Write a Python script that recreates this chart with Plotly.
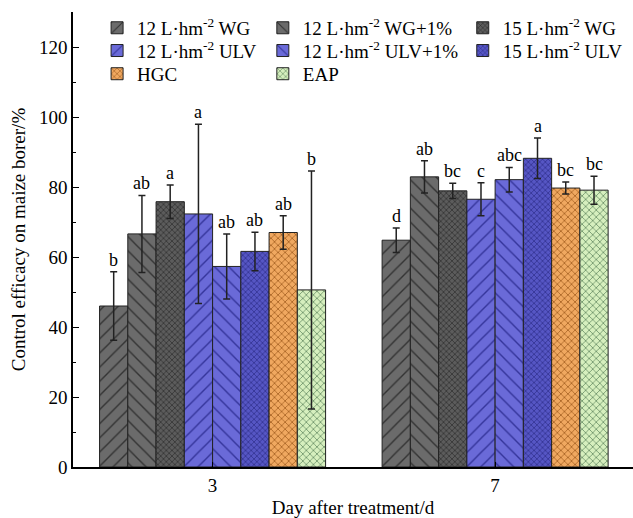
import plotly.graph_objects as go

# ---- data ----
days = ["3", "7"]
series_names = [
    "12 L·hm<sup>-2</sup> WG",
    "12 L·hm<sup>-2</sup> WG+1%",
    "15 L·hm<sup>-2</sup> WG",
    "12 L·hm<sup>-2</sup> ULV",
    "12 L·hm<sup>-2</sup> ULV+1%",
    "15 L·hm<sup>-2</sup> ULV",
    "HGC",
    "EAP",
]
values = [
    [46.0, 64.8],
    [66.6, 82.9],
    [75.8, 78.9],
    [72.3, 76.5],
    [57.3, 82.1],
    [61.6, 88.2],
    [67.0, 79.7],
    [50.6, 79.1],
]
errors = [
    [9.8, 3.5],
    [11.0, 4.6],
    [4.8, 2.2],
    [25.6, 4.7],
    [9.3, 3.5],
    [5.5, 5.8],
    [4.8, 1.7],
    [34.0, 4.0],
]
letters = [
    ["b", "d"],
    ["ab", "ab"],
    ["a", "bc"],
    ["a", "c"],
    ["ab", "abc"],
    ["ab", "a"],
    ["ab", "bc"],
    ["b", "bc"],
]

# ---- styles ----
bg_colors = ["#6b6b6b", "#6b6b6b", "#5c5c5c", "#6a6ad8", "#6a6ad8", "#5656c4", "#f0a860", "#d6efbe"]
fg_colors = ["#333333", "#333333", "#2a2a2a", "#34349a", "#34349a", "#2a2a86", "#a86424", "#6f946a"]
shapes_ = ["/", "\\", "x", "/", "\\", "x", "x", "x"]
sizes = [10, 10, 4, 10, 10, 4, 5, 5]
solid = [0.14, 0.14, 0.3, 0.14, 0.14, 0.3, 0.3, 0.3]
# legend placement (column left in paper x, row in paper y)
leg_x = [0.043, 0.339, 0.696, 0.043, 0.339, 0.696, 0.043, 0.339]
leg_y = [0.965, 0.965, 0.965, 0.915, 0.915, 0.915, 0.864, 0.864]

FONT = "Liberation Serif"
FS = 19
bar_w = 0.1
n = len(series_names)
centers = list(range(len(days)))

fig = go.Figure()
annotations = []
legends = {}
for i in range(n):
    off = -bar_w * n / 2 + i * bar_w
    lid = "legend" if i == 0 else f"legend{i + 1}"
    legends[lid] = dict(
        x=leg_x[i], y=leg_y[i], xanchor="left", yanchor="middle",
        orientation="v", bgcolor="rgba(0,0,0,0)", visible=True,
        font=dict(family=FONT, size=FS, color="black"),
    )
    fig.add_trace(go.Bar(
        x=centers,
        y=values[i],
        name=series_names[i],
        width=bar_w,
        offset=off,
        legend=lid,
        showlegend=True,
        marker=dict(
            color=bg_colors[i],
            line=dict(color="#222222", width=1),
            pattern=dict(shape=shapes_[i], fgcolor=fg_colors[i], bgcolor=bg_colors[i],
                         size=sizes[i], solidity=solid[i], fillmode="replace"),
        ),
        error_y=dict(type="data", array=errors[i], visible=True,
                     color="#222222", thickness=1.5, width=3.5),
    ))
    for j, c in enumerate(centers):
        annotations.append(dict(
            x=c + off + bar_w / 2, y=values[i][j] + errors[i][j],
            xref="x", yref="y", text=letters[i][j], showarrow=False,
            yanchor="bottom", xanchor="center", yshift=0,
            font=dict(family=FONT, size=18, color="black"),
        ))

fig.update_layout(
    width=633, height=518,
    margin=dict(l=73, r=0, t=12, b=51),
    paper_bgcolor="white", plot_bgcolor="white",
    barmode="overlay",
    showlegend=True,
    font=dict(family=FONT, size=FS, color="black"),
    annotations=annotations,
    xaxis=dict(
        range=[-0.494, 1.488], tickvals=centers, ticktext=days,
        showline=True, linecolor="black", linewidth=1.5,
        ticks="inside", ticklen=5, tickcolor="black",
        showgrid=False, zeroline=False,
        title=dict(text="Day after treatment/d", font=dict(family=FONT, size=FS), standoff=6),
        tickfont=dict(family=FONT, size=FS),
    ),
    yaxis=dict(
        range=[0, 130], dtick=20, tick0=0,
        showline=True, linecolor="black", linewidth=1.5,
        ticks="inside", ticklen=6, tickcolor="black",
        minor=dict(dtick=10, ticks="inside", ticklen=3, tickcolor="black"),
        showgrid=False, zeroline=False,
        title=dict(text="Control efficacy on maize borer/%", font=dict(family=FONT, size=FS), standoff=8),
        tickfont=dict(family=FONT, size=FS),
    ),
)
fig.update_layout(**legends)

fig.write_html("out.html")
